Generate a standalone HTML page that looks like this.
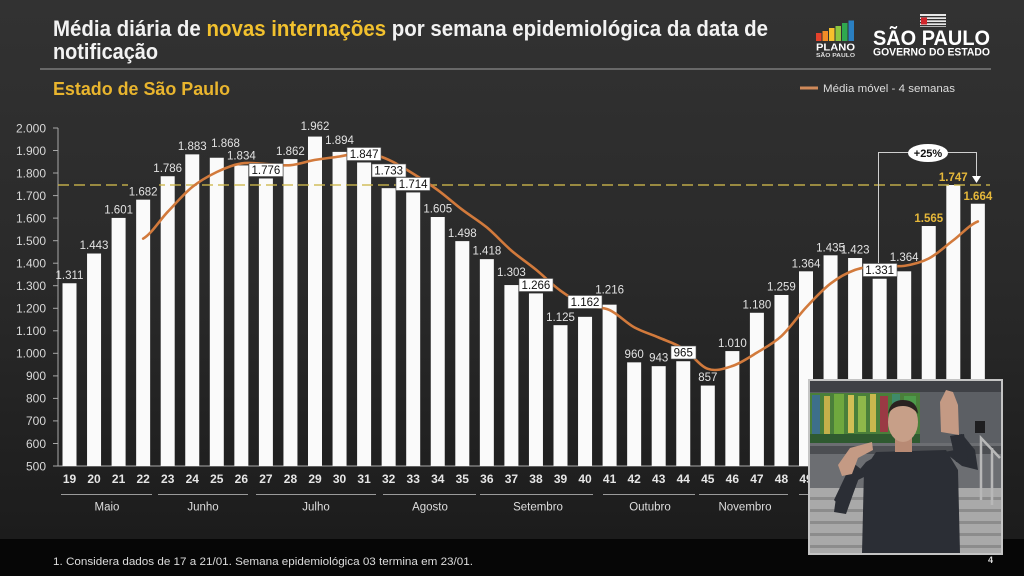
<!DOCTYPE html>
<html><head><meta charset="utf-8"><style>
html,body{margin:0;padding:0;background:#1d1d1d;}
svg{display:block;}
text{font-family:"Liberation Sans",sans-serif;}
</style></head><body>
<svg width="1024" height="576" viewBox="0 0 1024 576" xmlns="http://www.w3.org/2000/svg">
<defs>
<linearGradient id="bg" x1="0" y1="0" x2="0" y2="1">
<stop offset="0" stop-color="#323232"/><stop offset="0.5" stop-color="#2a2a2a"/><stop offset="1" stop-color="#1c1c1c"/>
</linearGradient>
</defs>
<rect x="0" y="0" width="1024" height="540" fill="url(#bg)"/>
<rect x="0" y="539" width="1024" height="37" fill="#060606"/>

<!-- Title -->
<text x="53" y="36" font-size="22" font-weight="bold" fill="#f2f2f2" textLength="715" lengthAdjust="spacingAndGlyphs">Média diária de <tspan fill="#f2c12e">novas internações</tspan> por semana epidemiológica da data de</text>
<text x="53" y="59" font-size="22" font-weight="bold" fill="#f2f2f2" textLength="105" lengthAdjust="spacingAndGlyphs">notificação</text>
<line x1="40" y1="69" x2="991" y2="69" stroke="#8a8a8a" stroke-width="1.2"/>
<text x="53" y="95" font-size="18" font-weight="bold" fill="#e9b52e" textLength="177" lengthAdjust="spacingAndGlyphs">Estado de São Paulo</text>

<!-- Plano SP logo -->
<rect x="816" y="33" width="5.5" height="8" fill="#e4412b"/>
<rect x="822.5" y="31" width="5.5" height="10" fill="#f28c28"/>
<rect x="829" y="28" width="5.5" height="13" fill="#f6c02c"/>
<rect x="835.5" y="26" width="5.5" height="15" fill="#8dc63f"/>
<rect x="842" y="23" width="5.5" height="18" fill="#2fa84f"/>
<rect x="848.5" y="20.5" width="5.5" height="20.5" fill="#2a7fc1"/>
<text x="816" y="50.5" font-size="10" font-weight="bold" fill="#ffffff" textLength="39" lengthAdjust="spacingAndGlyphs">PLANO</text>
<text x="816" y="57" font-size="5.5" font-weight="bold" fill="#dddddd" textLength="39" lengthAdjust="spacingAndGlyphs">SÃO PAULO</text>

<!-- SP gov logo -->
<rect x="920" y="14" width="26" height="13" fill="#e8e8e8"/>
<rect x="920" y="16" width="26" height="1.3" fill="#333"/>
<rect x="920" y="19" width="26" height="1.3" fill="#333"/>
<rect x="920" y="22" width="26" height="1.3" fill="#333"/>
<rect x="920" y="25" width="26" height="1.3" fill="#333"/>
<rect x="921" y="17.5" width="6" height="7" fill="#d0262c"/>
<text x="873" y="45" font-size="21" font-weight="bold" fill="#ffffff" textLength="117" lengthAdjust="spacingAndGlyphs">SÃO PAULO</text>
<text x="873" y="55.5" font-size="11" font-weight="bold" fill="#ffffff" textLength="117" lengthAdjust="spacingAndGlyphs">GOVERNO DO ESTADO</text>

<!-- Legend -->
<line x1="800" y1="88" x2="818" y2="88" stroke="#d08a5a" stroke-width="3"/>
<text x="823" y="92" font-size="11" fill="#dddddd" textLength="132" lengthAdjust="spacingAndGlyphs">Média móvel - 4 semanas</text>

<!-- Axes -->
<g stroke="#a8a8a8" stroke-width="1">
<line x1="58" y1="128" x2="58" y2="466"/>
<line x1="58" y1="466" x2="992" y2="466"/>
<line x1="53" y1="128" x2="58" y2="128"/><line x1="53" y1="150.5" x2="58" y2="150.5"/>
<line x1="53" y1="173" x2="58" y2="173"/><line x1="53" y1="195.6" x2="58" y2="195.6"/>
<line x1="53" y1="218.1" x2="58" y2="218.1"/><line x1="53" y1="240.7" x2="58" y2="240.7"/>
<line x1="53" y1="263.2" x2="58" y2="263.2"/><line x1="53" y1="285.7" x2="58" y2="285.7"/>
<line x1="53" y1="308.3" x2="58" y2="308.3"/><line x1="53" y1="330.8" x2="58" y2="330.8"/>
<line x1="53" y1="353.3" x2="58" y2="353.3"/><line x1="53" y1="375.9" x2="58" y2="375.9"/>
<line x1="53" y1="398.4" x2="58" y2="398.4"/><line x1="53" y1="420.9" x2="58" y2="420.9"/>
<line x1="53" y1="443.5" x2="58" y2="443.5"/><line x1="53" y1="466" x2="58" y2="466"/>
</g>
<g font-size="12" fill="#d8d8d8" text-anchor="end">
<text x="46" y="132.3">2.000</text><text x="46" y="154.8">1.900</text><text x="46" y="177.4">1.800</text>
<text x="46" y="199.9">1.700</text><text x="46" y="222.4">1.600</text><text x="46" y="245">1.500</text>
<text x="46" y="267.5">1.400</text><text x="46" y="290">1.300</text><text x="46" y="312.6">1.200</text>
<text x="46" y="335.1">1.100</text><text x="46" y="357.6">1.000</text><text x="46" y="380.2">900</text>
<text x="46" y="402.7">800</text><text x="46" y="425.2">700</text><text x="46" y="447.8">600</text>
<text x="46" y="470.3">500</text>
</g>

<!-- Bars -->
<g transform="matrix(1,0,0,-0.225333,0,578.667)" fill="#fafafa">
<rect x="62.5" y="500" width="14" height="811"/>
<rect x="87.05" y="500" width="14" height="943"/>
<rect x="111.6" y="500" width="14" height="1101"/>
<rect x="136.15" y="500" width="14" height="1182"/>
<rect x="160.7" y="500" width="14" height="1286"/>
<rect x="185.25" y="500" width="14" height="1383"/>
<rect x="209.8" y="500" width="14" height="1368"/>
<rect x="234.35" y="500" width="14" height="1334"/>
<rect x="258.9" y="500" width="14" height="1276"/>
<rect x="283.45" y="500" width="14" height="1362"/>
<rect x="308" y="500" width="14" height="1462"/>
<rect x="332.55" y="500" width="14" height="1394"/>
<rect x="357.1" y="500" width="14" height="1347"/>
<rect x="381.65" y="500" width="14" height="1233"/>
<rect x="406.2" y="500" width="14" height="1214"/>
<rect x="430.75" y="500" width="14" height="1105"/>
<rect x="455.3" y="500" width="14" height="998"/>
<rect x="479.85" y="500" width="14" height="918"/>
<rect x="504.4" y="500" width="14" height="803"/>
<rect x="528.95" y="500" width="14" height="766"/>
<rect x="553.5" y="500" width="14" height="625"/>
<rect x="578.05" y="500" width="14" height="662"/>
<rect x="602.6" y="500" width="14" height="716"/>
<rect x="627.15" y="500" width="14" height="460"/>
<rect x="651.7" y="500" width="14" height="443"/>
<rect x="676.25" y="500" width="14" height="465"/>
<rect x="700.8" y="500" width="14" height="357"/>
<rect x="725.35" y="500" width="14" height="510"/>
<rect x="749.9" y="500" width="14" height="680"/>
<rect x="774.45" y="500" width="14" height="759"/>
<rect x="799" y="500" width="14" height="864"/>
<rect x="823.55" y="500" width="14" height="935"/>
<rect x="848.1" y="500" width="14" height="923"/>
<rect x="872.65" y="500" width="14" height="831"/>
<rect x="897.2" y="500" width="14" height="864"/>
<rect x="921.75" y="500" width="14" height="1065"/>
<rect x="946.3" y="500" width="14" height="1247"/>
<rect x="970.85" y="500" width="14" height="1164"/>
</g>

<!-- dashed reference line -->
<line x1="58" y1="185" x2="990" y2="185" stroke="#cdb84c" stroke-width="1.6" stroke-dasharray="11 5" opacity="0.9"/>

<!-- Moving average -->
<g transform="matrix(1,0,0,-0.225333,0,578.667)">
<path fill="none" stroke="#d27a3c" stroke-width="2.6" vector-effect="non-scaling-stroke" stroke-linecap="round" d="M143.15,1509.25 C151.33,1529.04 159.52,1589.88 167.7,1628 C175.88,1666.13 184.07,1708.54 192.25,1738 C200.43,1767.46 208.62,1787.29 216.8,1804.75 C224.98,1822.21 233.17,1836.83 241.35,1842.75 C249.53,1848.67 257.72,1841.54 265.9,1840.25 C274.08,1838.96 282.27,1831.96 290.45,1835 C298.63,1838.04 306.82,1852.08 315,1858.5 C323.18,1864.92 331.37,1868.04 339.55,1873.5 C347.73,1878.96 355.92,1893.67 364.1,1891.25 C372.28,1888.83 380.47,1874.71 388.65,1859 C396.83,1843.29 405.02,1819.38 413.2,1797 C421.38,1774.63 429.57,1751.33 437.75,1724.75 C445.93,1698.17 454.12,1665.17 462.3,1637.5 C470.48,1609.83 478.67,1589 486.85,1558.75 C495.03,1528.5 503.22,1487.25 511.4,1456 C519.58,1424.75 527.77,1400.92 535.95,1371.25 C544.13,1341.58 552.32,1304.21 560.5,1278 C568.68,1251.79 576.87,1228.29 585.05,1214 C593.23,1199.71 601.42,1208.63 609.6,1192.25 C617.78,1175.88 625.97,1136.08 634.15,1115.75 C642.33,1095.42 650.52,1086.04 658.7,1070.25 C666.88,1054.46 675.07,1044.17 683.25,1021 C691.43,997.83 699.62,944.13 707.8,931.25 C715.98,918.38 724.17,931.79 732.35,943.75 C740.53,955.71 748.72,980.88 756.9,1003 C765.08,1025.13 773.27,1043.13 781.45,1076.5 C789.63,1109.88 797.82,1164.42 806,1203.25 C814.18,1242.08 822.37,1281.67 830.55,1309.5 C838.73,1337.33 846.92,1357.13 855.1,1370.25 C863.28,1383.38 871.47,1385.25 879.65,1388.25 C887.83,1391.25 896.02,1382.83 904.2,1388.25 C912.38,1393.67 920.57,1401.83 928.75,1420.75 C936.93,1439.67 945.12,1474.38 953.3,1501.75 C961.48,1529.13 969.67,1571.13 977.85,1585"/>
</g>

<!-- Label backgrounds / boxes -->
<rect x="128" y="184" width="31" height="13" fill="#2b2b2b"/>
<g fill="#ffffff" stroke="#555" stroke-width="0.6">
<rect x="249" y="163.5" width="34" height="13"/>
<rect x="347" y="147.5" width="34" height="13"/>
<rect x="372" y="164" width="34" height="13"/>
<rect x="396" y="177.5" width="34" height="13"/>
<rect x="519" y="278.5" width="34" height="13"/>
<rect x="568" y="295.5" width="34" height="13"/>
<rect x="671" y="346" width="25" height="13"/>
<rect x="863" y="263.5" width="34" height="13"/>
</g>

<!-- Bar labels -->
<g font-size="11.5" fill="#e2e2e2" text-anchor="middle">
<text x="69.5" y="279">1.311</text>
<text x="94.05" y="249.2">1.443</text>
<text x="118.6" y="213.6">1.601</text>
<text x="143.15" y="195.4">1.682</text>
<text x="167.7" y="171.9">1.786</text>
<text x="192.25" y="150.1">1.883</text>
<text x="225.5" y="146.9">1.868</text>
<text x="241.35" y="159.7">1.834</text>
<text x="290.45" y="155">1.862</text>
<text x="315" y="130.2">1.962</text>
<text x="339.55" y="144.2">1.894</text>
<text x="437.75" y="212.7">1.605</text>
<text x="462.3" y="236.9">1.498</text>
<text x="486.85" y="254.7">1.418</text>
<text x="511.4" y="276.2">1.303</text>
<text x="560.5" y="321">1.125</text>
<text x="609.6" y="293.5">1.216</text>
<text x="634.15" y="358.2">960</text>
<text x="658.7" y="361.7">943</text>
<text x="707.8" y="381.2">857</text>
<text x="732.35" y="346.9">1.010</text>
<text x="756.9" y="308.7">1.180</text>
<text x="781.45" y="290.7">1.259</text>
<text x="806" y="267.7">1.364</text>
<text x="830.55" y="251.5">1.435</text>
<text x="855.1" y="253.5">1.423</text>
<text x="904.2" y="260.9">1.364</text>
</g>
<g font-size="11.5" fill="#111111" text-anchor="middle">
<text x="265.9" y="174.2">1.776</text>
<text x="364.1" y="158.2">1.847</text>
<text x="388.65" y="174.7">1.733</text>
<text x="413.2" y="188.2">1.714</text>
<text x="535.95" y="289.2">1.266</text>
<text x="585.05" y="306.2">1.162</text>
<text x="683.25" y="356.7">965</text>
<text x="879.65" y="274.2">1.331</text>
</g>
<g font-size="11.5" font-weight="bold" fill="#e6b83a" text-anchor="middle">
<text x="928.75" y="221.9">1.565</text>
<text x="953.3" y="180.9">1.747</text>
<text x="977.85" y="199.9">1.664</text>
</g>

<!-- +25% annotation -->
<polyline points="878.5,263 878.5,152.5 976.5,152.5 976.5,177" fill="none" stroke="#cfcfcf" stroke-width="1"/>
<polygon points="972,176 981,176 976.5,183" fill="#ffffff"/>
<ellipse cx="928" cy="153" rx="20" ry="9" fill="#ffffff"/>
<text x="928" y="157" font-size="11" font-weight="bold" fill="#111" text-anchor="middle">+25%</text>

<!-- X labels -->
<g font-size="12" font-weight="bold" fill="#e6e6e6" text-anchor="middle">
<text x="69.5" y="483">19</text><text x="94.05" y="483">20</text><text x="118.6" y="483">21</text>
<text x="143.15" y="483">22</text><text x="167.7" y="483">23</text><text x="192.25" y="483">24</text>
<text x="216.8" y="483">25</text><text x="241.35" y="483">26</text><text x="265.9" y="483">27</text>
<text x="290.45" y="483">28</text><text x="315" y="483">29</text><text x="339.55" y="483">30</text>
<text x="364.1" y="483">31</text><text x="388.65" y="483">32</text><text x="413.2" y="483">33</text>
<text x="437.75" y="483">34</text><text x="462.3" y="483">35</text><text x="486.85" y="483">36</text>
<text x="511.4" y="483">37</text><text x="535.95" y="483">38</text><text x="560.5" y="483">39</text>
<text x="585.05" y="483">40</text><text x="609.6" y="483">41</text><text x="634.15" y="483">42</text>
<text x="658.7" y="483">43</text><text x="683.25" y="483">44</text><text x="707.8" y="483">45</text>
<text x="732.35" y="483">46</text><text x="756.9" y="483">47</text><text x="781.45" y="483">48</text>
<text x="806" y="483">49</text><text x="830.55" y="483">50</text><text x="855.1" y="483">51</text>
<text x="879.65" y="483">52</text><text x="904.2" y="483">53</text><text x="928.75" y="483">01</text>
<text x="953.3" y="483">02</text><text x="977.85" y="483">03</text>
</g>

<!-- Month groups -->
<g stroke="#9a9a9a" stroke-width="1">
<line x1="61" y1="494.5" x2="152" y2="494.5"/>
<line x1="158" y1="494.5" x2="248" y2="494.5"/>
<line x1="256" y1="494.5" x2="376" y2="494.5"/>
<line x1="383" y1="494.5" x2="476" y2="494.5"/>
<line x1="480" y1="494.5" x2="593" y2="494.5"/>
<line x1="603" y1="494.5" x2="695" y2="494.5"/>
<line x1="699" y1="494.5" x2="788" y2="494.5"/>
<line x1="799" y1="494.5" x2="915" y2="494.5"/>
<line x1="921" y1="494.5" x2="990" y2="494.5"/>
</g>
<g font-size="11.5" fill="#dddddd" text-anchor="middle">
<text x="107" y="510.5">Maio</text>
<text x="203" y="510.5">Junho</text>
<text x="316" y="510.5">Julho</text>
<text x="430" y="510.5">Agosto</text>
<text x="538" y="510.5">Setembro</text>
<text x="650" y="510.5">Outubro</text>
<text x="745" y="510.5">Novembro</text>
<text x="857" y="510.5">Dezembro</text>
<text x="953" y="510.5">Janeiro</text>
</g>

<!-- Footer -->
<text x="53" y="565" font-size="11" fill="#dddddd" textLength="420" lengthAdjust="spacingAndGlyphs">1. Considera dados de 17 a 21/01. Semana epidemiológica 03 termina em 23/01.</text>
<text x="988" y="563" font-size="9" font-weight="bold" fill="#dddddd">4</text>

<!-- Video inset -->
<rect x="808" y="379" width="195" height="176" fill="#c4c4c4"/>
<rect x="810" y="381" width="191" height="172" fill="#5c5f64"/>
<rect x="810" y="381" width="191" height="11" fill="#3f4146"/>
<!-- mural -->
<rect x="810" y="393" width="110" height="50" fill="#4a7f3a"/>
<rect x="812" y="395" width="8" height="40" fill="#3d6f8a"/>
<rect x="824" y="396" width="6" height="38" fill="#c4b04a"/>
<rect x="834" y="394" width="10" height="40" fill="#6fa83e"/>
<rect x="848" y="395" width="6" height="38" fill="#d2bf55"/>
<rect x="858" y="396" width="8" height="36" fill="#8fb84a"/>
<rect x="870" y="394" width="6" height="38" fill="#c9b84e"/>
<rect x="880" y="396" width="8" height="36" fill="#9a3a44"/>
<rect x="892" y="394" width="8" height="40" fill="#3f8a6a"/>
<rect x="904" y="396" width="12" height="40" fill="#4d9a4a"/>
<rect x="810" y="434" width="110" height="9" fill="#2f5a30"/>
<!-- right wall details -->
<rect x="975" y="421" width="10" height="12" fill="#1e1e20"/>
<!-- floor -->
<rect x="810" y="443" width="191" height="45" fill="#6c6e72"/>
<rect x="810" y="446" width="191" height="8" fill="#4c4e52"/>
<!-- stairs -->
<rect x="810" y="488" width="191" height="65" fill="#a9a9a9"/>
<g fill="#8c8c8c">
<rect x="810" y="497" width="191" height="3"/>
<rect x="810" y="509" width="191" height="3"/>
<rect x="810" y="521" width="191" height="3"/>
<rect x="810" y="533" width="191" height="3"/>
<rect x="810" y="545" width="191" height="3"/>
</g>
<!-- railing -->
<g stroke="#b8b8b8" stroke-width="2.5" fill="none">
<polyline points="981,500 981,438 1000,458"/>
<line x1="992" y1="448" x2="992" y2="505"/>
</g>
<!-- person -->
<g fill="#2b2e35">
<polygon points="876,452 946,450 958,470 960,553 862,553 864,470"/>
<polygon points="878,455 866,462 836,498 834,512 846,514 858,480 878,470"/>
<polygon points="834,500 846,512 862,470 852,462"/>
<polygon points="944,452 962,466 978,470 975,450 962,434 950,436 955,450"/>
<polygon points="950,436 964,434 968,460 956,462"/>
</g>
<!-- neck, head, hands -->
<rect x="895" y="438" width="17" height="14" fill="#b88a74"/>
<ellipse cx="903" cy="422" rx="15" ry="20" fill="#c79f88"/>
<path d="M888,414 Q890,400 903,400 Q917,400 918,414 Q912,406 903,406 Q893,406 888,414Z" fill="#2a2220"/>
<polygon points="838,465 850,448 872,442 873,450 858,458 852,474 842,476" fill="#c49a84"/>
<polygon points="941,432 940,402 946,390 953,392 958,405 959,435" fill="#c49a84"/>
</svg>
</body></html>
